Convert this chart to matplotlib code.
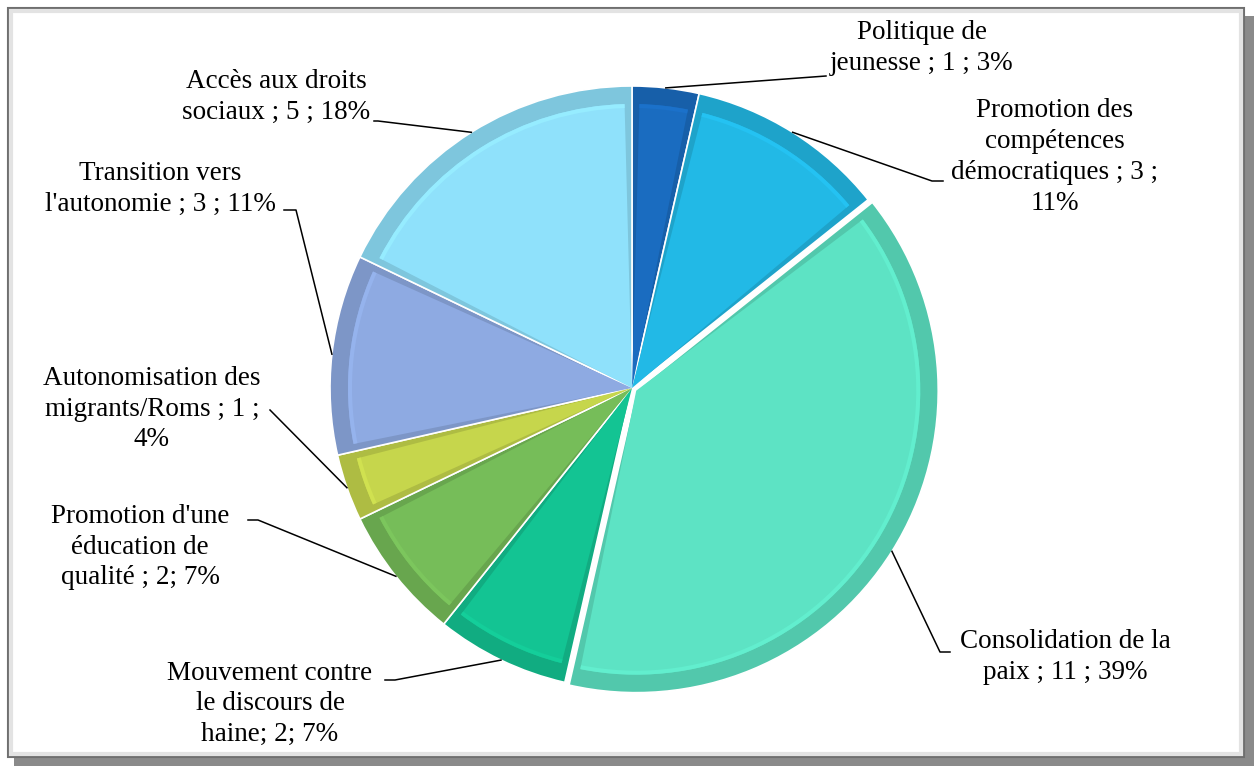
import matplotlib
matplotlib.use("Agg")
import matplotlib.pyplot as plt
from matplotlib.patches import Rectangle, Wedge
import numpy as np

# data
labels = ["Politique de\njeunesse ; 1 ; 3%",
          "Promotion des\ncompétences\ndémocratiques ; 3 ;\n11%",
          "Consolidation de la\npaix ; 11 ; 39%",
          "Mouvement contre\nle discours de\nhaine; 2; 7%",
          "Promotion d'une\néducation de\nqualité ; 2; 7%",
          "Autonomisation des\nmigrants/Roms ; 1 ;\n4%",
          "Transition vers\nl'autonomie ; 3 ; 11%",
          "Accès aux droits\nsociaux ; 5 ; 18%"]
values = [1, 3, 11, 2, 2, 1, 3, 5]
colors = ["#1a6cc0", "#22b9e6", "#5de3c4", "#13c493",
          "#76bd59", "#c6d64c", "#8eaae2", "#8fe1fb"]

# label placement (pixels, y down): text centre, elbow point, text side
label_pos = [(922, 48), (1055, 157), (1065, 657), (270, 704),
             (140, 547), (152, 409), (160, 189), (276, 97)]
elbows = [(826, 76), (932, 181), (940, 652), (395, 680),
          (258, 520), (270, 410), (296, 210), (378, 121)]
tails = [(826, 76), (943, 181), (950, 652), (385, 680),
         (248, 520), (270, 410), (284, 210), (374, 121)]

W, H = 1254, 767
fig = plt.figure(figsize=(W / 100, H / 100), dpi=100)
ax = fig.add_axes([0, 0, 1, 1])
ax.set_xlim(0, W)
ax.set_ylim(0, H)
ax.axis("off")

def py(y):
    return H - y

# frame with shadow
ax.add_patch(Rectangle((14, py(766)), 1240, 750, facecolor="#8a8a8a", edgecolor="none", zorder=0))
ax.add_patch(Rectangle((8, py(757)), 1236, 749, facecolor="white", edgecolor="#6f6f6f", lw=1.5, zorder=1))
ax.add_patch(Rectangle((11, py(754)), 1230, 743, facecolor="none", edgecolor="#e3e3e3", lw=3, zorder=1))

cx, cy, R = 632, py(388), 302
explode = [0, 0, 5, 0, 0, 0, 0, 0]

def shade(c, f):
    rgb = np.array(matplotlib.colors.to_rgb(c))
    return tuple(np.clip(rgb * f, 0, 1))

total = sum(values)
start = 90.0
for i, v in enumerate(values):
    sweep = v / total * 360
    t1, t2 = start - sweep, start
    mid = np.deg2rad((t1 + t2) / 2)
    ox = cx + explode[i] * np.cos(mid)
    oy = cy + explode[i] * np.sin(mid)
    # outer rim (bevel), then face
    ax.add_patch(Wedge((ox, oy), R, t1, t2, facecolor=shade(colors[i], 0.88),
                       edgecolor="white", lw=1.2, zorder=3))
    ax.add_patch(Wedge((ox, oy), R - 18, t1 + 1.5, t2 - 1.5, facecolor=colors[i],
                       edgecolor="none", zorder=4))
    ax.add_patch(Wedge((ox, oy), R - 18, t1 + 1.5, t2 - 1.5, width=4,
                       facecolor=shade(colors[i], 1.05), edgecolor="none", zorder=4))

    # leader line from wedge edge at mid angle
    ax0 = ox + R * np.cos(mid)
    ay0 = oy + R * np.sin(mid)
    ex, ey = elbows[i]
    tx, ty = tails[i]
    ax.plot([ax0, ex, tx], [ay0, py(ey), py(ty)], color="black", lw=1.1, zorder=5)

    lx, ly = label_pos[i]
    ax.text(lx, py(ly), labels[i], ha="center", va="center", fontsize=19.5,
            family="Liberation Serif", linespacing=1.3, zorder=6)
    start = t1

fig.savefig("out.png", dpi=100)
